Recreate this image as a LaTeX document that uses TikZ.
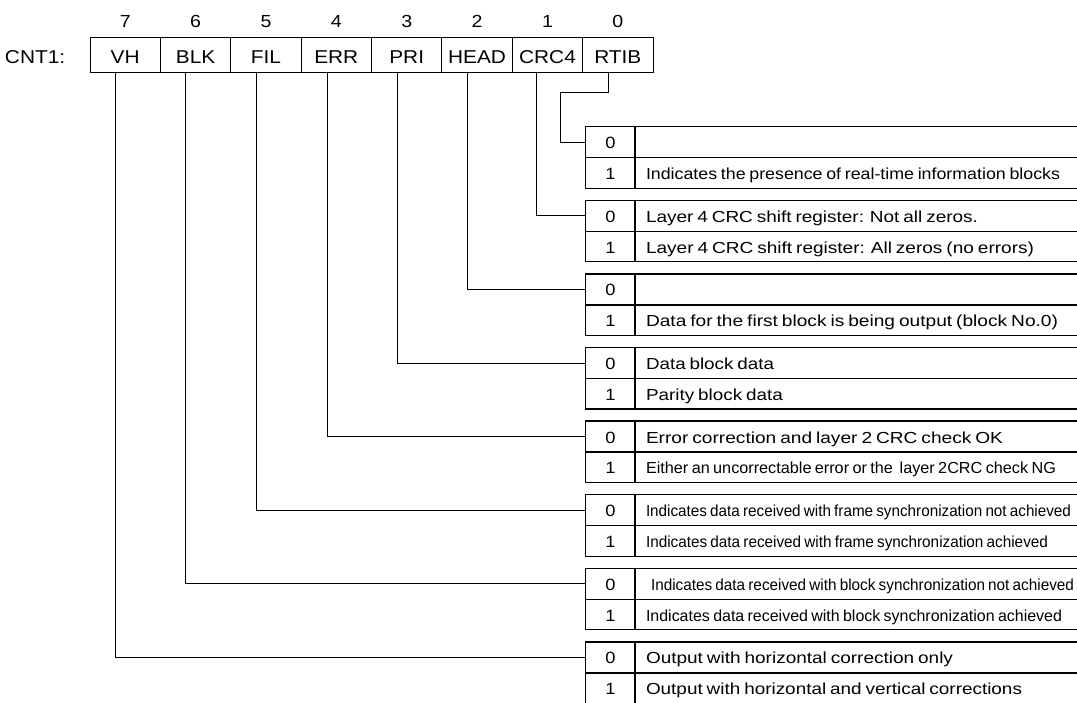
\documentclass[tikz,border=0pt]{standalone}
\usepackage{fontspec}
\setmainfont{Liberation Sans}
\usepackage{graphicx}
\newcommand\hdfont{\fontsize{18.6}{21}\selectfont}
\newcommand\nmfont{\fontsize{17.5}{20}\selectfont}
\newcommand\txfont{\fontsize{16}{18}\selectfont}
\newcommand\dgfont{\fontsize{16.3}{18}\selectfont}
\newcommand\hx[1]{\scalebox{1.12}[1]{#1}}
\newcommand\fitw[2]{\resizebox{#1pt}{\height}{\txfont #2}}
\begin{document}
\begin{tikzpicture}[x=1pt,y=-1pt,
  every node/.style={outer sep=0pt},
  regcell/.style={draw, line width=1pt, minimum width=70.4pt, minimum height=35.5pt, inner sep=0pt, anchor=north west, text height=17.1pt, text depth=0pt, font=\hdfont},
  bitnum/.style={anchor=base, inner sep=0pt, font=\nmfont},
  dcell/.style={draw, line width=1.3pt, minimum width=49.3pt, minimum height=31pt, inner sep=0pt, anchor=north west, text height=13pt, text depth=0pt, font=\dgfont},
  dcellb/.style={dcell, minimum height=30.5pt},
  tcell/.style={draw, line width=1.3pt, minimum width=455pt, text width=433pt, inner xsep=11pt, inner ysep=0pt, minimum height=31pt, align=left, anchor=north west, text height=13pt, text depth=0pt},
  tcellb/.style={tcell, minimum height=30.5pt},
  conn/.style={line width=0.9pt}]
\useasboundingbox (0,0) rectangle (1077,702);

% register
\node[anchor=base west, inner sep=0pt, font=\hdfont] (lbl) at (5,63) {\hx{CNT1:}};
\node[regcell] (c7) at (90,37) {\hx{VH}};
\node[regcell] (c6) at (160.4,37) {\hx{BLK}};
\node[regcell] (c5) at (230.8,37) {\hx{FIL}};
\node[regcell] (c4) at (301.1,37) {\hx{ERR}};
\node[regcell] (c3) at (371.5,37) {\hx{PRI}};
\node[regcell] (c2) at (441.9,37) {\hx{HEAD}};
\node[regcell] (c1) at (512.3,37) {\hx{CRC4}};
\node[regcell] (c0) at (582.6,37) {\hx{RTIB}};
\foreach \i in {0,...,7}{
  \node[bitnum] (n\i) at ([yshift=10pt]c\i.north) {\hx{\i}};
}

% tables
% k=0 RTIB
\node[dcell]  (d00) at (585.7,126.7) {\hx{0}};
\node[tcell]  (t00) at (635,126.7) {};
\node[dcellb] (d10) at (585.7,157.7) {\hx{1}};
\node[tcellb] (t10) at (635,157.7) {\fitw{414}{Indicates the presence of real-time information blocks}};
% k=1 CRC4
\node[dcell]  (d01) at (585.7,200.3) {\hx{0}};
\node[tcell]  (t01) at (635,200.3) {\fitw{332}{Layer 4 CRC shift register: Not all zeros.}};
\node[dcellb] (d11) at (585.7,231.3) {\hx{1}};
\node[tcellb] (t11) at (635,231.3) {\fitw{388}{Layer 4 CRC shift register: All zeros (no errors)}};
% k=2 HEAD
\node[dcell]  (d02) at (585.7,273.9) {\hx{0}};
\node[tcell]  (t02) at (635,273.9) {};
\node[dcellb] (d12) at (585.7,304.9) {\hx{1}};
\node[tcellb] (t12) at (635,304.9) {\fitw{412}{Data for the first block is being output (block No.0)}};
% k=3 PRI
\node[dcell]  (d03) at (585.7,347.5) {\hx{0}};
\node[tcell]  (t03) at (635,347.5) {\fitw{128}{Data block data}};
\node[dcellb] (d13) at (585.7,378.5) {\hx{1}};
\node[tcellb] (t13) at (635,378.5) {\fitw{137}{Parity block data}};
% k=4 ERR
\node[dcell]  (d04) at (585.7,421.1) {\hx{0}};
\node[tcell]  (t04) at (635,421.1) {\fitw{357}{Error correction and layer 2 CRC check OK}};
\node[dcellb] (d14) at (585.7,452.1) {\hx{1}};
\node[tcellb] (t14) at (635,452.1) {\fitw{410}{Either an uncorrectable error or the\ \ layer 2CRC check NG}};
% k=5 FIL
\node[dcell]  (d05) at (585.7,494.7) {\hx{0}};
\node[tcell]  (t05) at (635,494.7) {\fitw{425}{Indicates data received with frame synchronization not achieved}};
\node[dcellb] (d15) at (585.7,525.7) {\hx{1}};
\node[tcellb] (t15) at (635,525.7) {\fitw{402}{Indicates data received with frame synchronization achieved}};
% k=6 BLK
\node[dcell]  (d06) at (585.7,568.3) {\hx{0}};
\node[tcell]  (t06) at (635,568.3) {\hspace*{5pt}\fitw{423}{Indicates data received with block synchronization not achieved}};
\node[dcellb] (d16) at (585.7,599.3) {\hx{1}};
\node[tcellb] (t16) at (635,599.3) {\fitw{416}{Indicates data received with block synchronization achieved}};
% k=7 VH
\node[dcell]  (d07) at (585.7,641.9) {\hx{0}};
\node[tcell]  (t07) at (635,641.9) {\fitw{307}{Output with horizontal correction only}};
\node[dcellb] (d17) at (585.7,672.9) {\hx{1}};
\node[tcellb] (t17) at (635,672.9) {\fitw{376}{Output with horizontal and vertical corrections}};

% connectors
\coordinate (rk) at (560.7,92);
\draw[conn] ([xshift=25.7pt]c0.south west) |- (rk) |- (d00.west);
\draw[conn] ([xshift=24.5pt]c1.south west) |- (d01.west);
\draw[conn] ([xshift=25.4pt]c2.south west) |- (d02.west);
\draw[conn] ([xshift=25.5pt]c3.south west) |- (d03.west);
\draw[conn] ([xshift=26.6pt]c4.south west) |- (d04.west);
\draw[conn] ([xshift=25.2pt]c5.south west) |- (d05.west);
\draw[conn] ([xshift=24.6pt]c6.south west) |- (d06.west);
\draw[conn] ([xshift=25.7pt]c7.south west) |- (d07.west);
\end{tikzpicture}
\end{document}
